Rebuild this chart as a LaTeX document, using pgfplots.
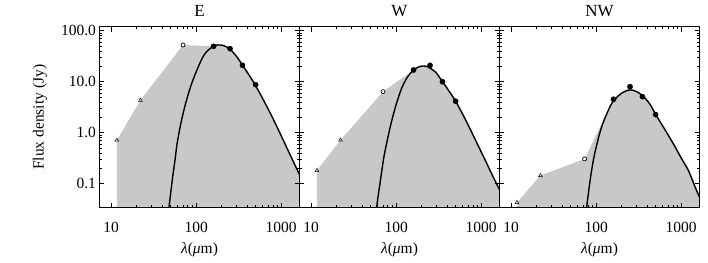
\documentclass[border=0pt]{standalone}
\usepackage{fontspec}
\setmainfont{Liberation Serif}
\usepackage{pgfplots}
\usepackage{pgfplotstable}
\pgfplotsset{compat=1.18}
\definecolor{sedgray}{RGB}{200,200,200}

\pgfplotstableread{
lam S
47 0.027
49 0.0475
51 0.084
53.6 0.16
56.5 0.30
59.7 0.62
66 1.52
73.6 3.3
85 7.57
98.4 14.7
119 30
135 40
158.6 49.7
180 52.7
200 52.3
225 48.7
249 44.0
300 31
348 21.5
420 13.4
491 8.8
600 4.82
736 2.50
870 1.42
1038 0.764
1300 0.343
1585 0.17
1700 0.132
}\curveE
\pgfplotstableread{
lam S
57.5 0.025
60 0.044
64.3 0.098
71.6 0.33
80 0.82
88.3 1.68
100 3.6
115.7 7.4
135 12.2
158.6 16.8
185 19.6
208 20.4
235 19.6
270 17.0
300 14.5
351 10.0
420 6.5
500 4.15
640 1.93
805 0.89
1000 0.42
1157 0.255
1400 0.130
1585 0.086
1700 0.066
}\curveW
\pgfplotstableread{
lam S
75.5 0.026
77.1 0.034
81 0.065
86.7 0.150
94 0.33
103.7 0.673
114 1.2
126.5 1.93
149 3.52
166 4.54
200 6.0
249 6.92
300 6.4
363 5.05
430 3.6
504 2.24
650 1.12
843 0.537
1000 0.32
1219 0.18
1450 0.088
1660 0.052
1750 0.042
}\curveNW

\pgfplotsset{
 every axis title/.style={at={(axis description cs:0.5,1)}, yshift=15.9pt, anchor=center, font=\fontsize{17}{18}\selectfont},
 every axis x label/.style={at={(axis description cs:0.5,0)}, yshift=-42pt, anchor=center, font=\fontsize{15.5}{16}\selectfont},
 every axis y label/.style={at={(axis description cs:0,0.5)}, xshift=-59.5pt, rotate=90, anchor=center, font=\fontsize{15.5}{16}\selectfont},
 every tick label/.append style={font=\fontsize{15.5}{16}\selectfont},
 every x tick label/.append style={yshift=-11pt},
 every tick/.append style={black, line width=0.9pt},
}

\begin{document}
\begin{tikzpicture}
\path[use as bounding box] (0,0) rectangle (708pt,262pt);

% ---------- E ----------
\begin{axis}[scale only axis, width=200pt, height=181pt,
  xmode=log, ymode=log, xmin=7.3, xmax=1640, ymin=0.034, ymax=120,
  log origin y=infty,
  axis on top, axis line style={line width=1.5pt},
  major tick length=5pt, minor tick length=2.5pt, tick align=inside,
  xtick={10,100,1000}, xticklabels={10,100,1000}, ytick={0.1,1,10,100},
  xlabel={\textit{λ}(\textit{μ}m)},
  at={(99.5pt,54.3pt)}, anchor=south west, title={E},
  ylabel={Flux density (Jy)}, yticklabels={0.1,1.0,10.0,100.0}]
\addplot[fill=sedgray, draw=none] coordinates {(11.7,0.01) (11.7,0.716) (22.1,4.35) (70,52.5) (160,49.5) (250,44.5) (350,21.0) (500,8.77) (500,0.01) (11.7,0.01)};
\addplot[fill=sedgray, draw=none, smooth] table {\curveE} \closedcycle;
\addplot[black, line width=1.4pt, smooth, no markers] table {\curveE};
\addplot[only marks, mark=triangle, mark size=2.1pt, mark options={black, line width=0.5pt}] coordinates {(11.7,0.716) (22.1,4.35)};
\addplot[only marks, mark=*, mark size=2.0pt, mark options={draw=black, fill=white, line width=0.7pt}] coordinates {(70,52.5)};
\addplot[only marks, mark=*, mark size=2.6pt, mark options={black}] coordinates {(160,49.5) (250,44.5) (350,21.0) (500,8.77)};
\end{axis}

% ---------- W ----------
\begin{axis}[scale only axis, width=200pt, height=181pt,
  xmode=log, ymode=log, xmin=7.3, xmax=1640, ymin=0.034, ymax=120,
  log origin y=infty,
  axis on top, axis line style={line width=1.5pt},
  major tick length=5pt, minor tick length=2.5pt, tick align=inside,
  xtick={10,100,1000}, xticklabels={10,100,1000}, ytick={0.1,1,10,100},
  xlabel={\textit{λ}(\textit{μ}m)},
  at={(299.5pt,54.3pt)}, anchor=south west, title={W},
  yticklabels={}]
\addplot[fill=sedgray, draw=none] coordinates {(11.7,0.01) (11.7,0.182) (22.1,0.716) (70,6.4) (160,17.0) (250,21.0) (350,10.0) (500,4.15) (500,0.01) (11.7,0.01)};
\addplot[fill=sedgray, draw=none, smooth] table {\curveW} \closedcycle;
\addplot[black, line width=1.4pt, smooth, no markers] table {\curveW};
\addplot[only marks, mark=triangle, mark size=2.1pt, mark options={black, line width=0.5pt}] coordinates {(11.7,0.182) (22.1,0.716)};
\addplot[only marks, mark=*, mark size=2.0pt, mark options={draw=black, fill=white, line width=0.7pt}] coordinates {(70,6.4)};
\addplot[only marks, mark=*, mark size=2.6pt, mark options={black}] coordinates {(160,17.0) (250,21.0) (350,10.0) (500,4.15)};
\end{axis}

% ---------- NW ----------
\begin{axis}[scale only axis, width=200pt, height=181pt,
  xmode=log, ymode=log, xmin=7.3, xmax=1640, ymin=0.034, ymax=120,
  log origin y=infty,
  axis on top, axis line style={line width=1.5pt},
  major tick length=5pt, minor tick length=2.5pt, tick align=inside,
  xtick={10,100,1000}, xticklabels={10,100,1000}, ytick={0.1,1,10,100},
  xlabel={\textit{λ}(\textit{μ}m)},
  at={(499.5pt,54.3pt)}, anchor=south west, title={NW},
  yticklabels={}]
\addplot[fill=sedgray, draw=none] coordinates {(11.7,0.01) (11.7,0.043) (22.1,0.145) (73,0.308) (160,4.54) (250,8.0) (350,5.1) (500,2.27) (500,0.01) (11.7,0.01)};
\addplot[fill=sedgray, draw=none, smooth] table {\curveNW} \closedcycle;
\addplot[black, line width=1.4pt, smooth, no markers] table {\curveNW};
\addplot[only marks, mark=triangle, mark size=2.1pt, mark options={black, line width=0.5pt}] coordinates {(11.7,0.043) (22.1,0.145)};
\addplot[only marks, mark=*, mark size=2.0pt, mark options={draw=black, fill=white, line width=0.7pt}] coordinates {(73,0.308)};
\addplot[only marks, mark=*, mark size=2.6pt, mark options={black}] coordinates {(160,4.54) (250,8.0) (350,5.1) (500,2.27)};
\end{axis}
\end{tikzpicture}
\end{document}
